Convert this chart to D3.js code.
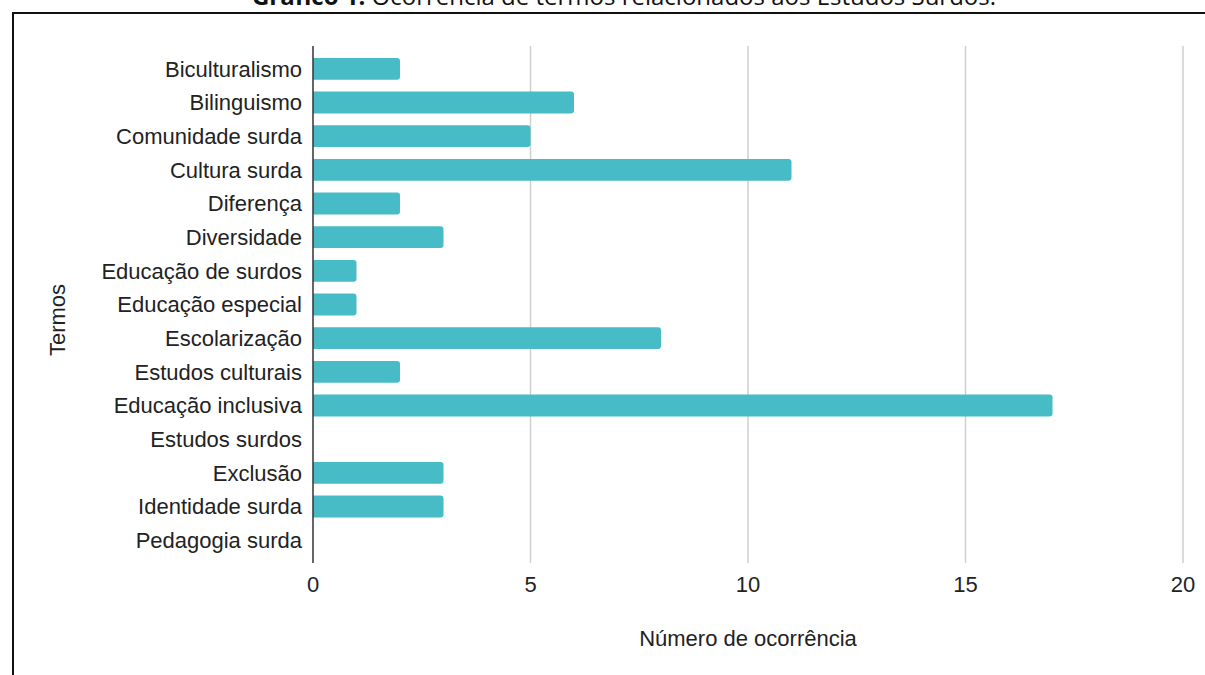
<!DOCTYPE html>
<html lang="pt">
<head>
  <meta charset="UTF-8">
  <title>Gráfico 1</title>
  <style>
    body { margin: 0; background: #fff; }
    svg { display: block; }
  </style>
  <script src="https://d3js.org/d3.v7.min.js"></script>
</head>
<body>
  <div id="chart"></div>
  <script>
    const termos = [
      "Biculturalismo", "Bilinguismo", "Comunidade surda", "Cultura surda",
      "Diferença", "Diversidade", "Educação de surdos", "Educação especial",
      "Escolarização", "Estudos culturais", "Educação inclusiva", "Estudos surdos",
      "Exclusão", "Identidade surda", "Pedagogia surda"
    ];
    const ocorrencias = [2, 6, 5, 11, 2, 3, 1, 1, 8, 2, 17, 0, 3, 3, 0];
    const xTicks = [0, 5, 10, 15, 20];

    const W = 1205, H = 675;
    const mLeft = 313, mRight = 1183, mTop = 52, mBottom = 557;

    const svg = d3.select("#chart").append("svg")
      .attr("width", W).attr("height", H);

    // moldura
    svg.append("path")
      .attr("d", `M13,${H} L13,13 L${W},13`)
      .attr("fill", "none").attr("stroke", "#111").attr("stroke-width", 2);

    // título (cortado no topo, como no original)
    const title = svg.append("text")
      .attr("x", 624).attr("y", 5)
      .attr("text-anchor", "middle")
      .style("font-family", "'Open Sans', sans-serif")
      .style("font-size", "24px")
      .style("fill", "#111");
    title.append("tspan").style("font-weight", "bold").text("Gráfico 1.");
    title.append("tspan").text(" Ocorrência de termos relacionados aos Estudos Surdos.");

    const x = d3.scaleLinear().domain([0, 20]).range([mLeft, mRight]);
    const y = d3.scaleBand().domain(termos).range([mTop, mBottom]).paddingInner(0.35).paddingOuter(0.175);

    // grade
    svg.append("g").selectAll("line")
      .data(xTicks.slice(1))
      .join("line")
      .attr("x1", d => x(d)).attr("x2", d => x(d))
      .attr("y1", 46).attr("y2", 563)
      .attr("stroke", "#cfcfcf").attr("stroke-width", 1.5);

    // barras (cantos arredondados só à direita)
    const r = 3;
    svg.append("g").selectAll("path")
      .data(termos.map((t, i) => ({ t, v: ocorrencias[i] })).filter(d => d.v > 0))
      .join("path")
      .attr("d", d => {
        const x0 = x(0), x1 = x(d.v), y0 = y(d.t), h = y.bandwidth();
        return `M${x0},${y0} H${x1 - r} Q${x1},${y0} ${x1},${y0 + r} V${y0 + h - r} Q${x1},${y0 + h} ${x1 - r},${y0 + h} H${x0} Z`;
      })
      .attr("fill", "#47bcc6");

    // eixo y
    svg.append("line")
      .attr("x1", mLeft).attr("x2", mLeft)
      .attr("y1", 46).attr("y2", 563)
      .attr("stroke", "#333").attr("stroke-width", 1.5);

    const font = "'Liberation Sans', Arial, sans-serif";
    const fs = "22px";

    svg.append("g").selectAll("text")
      .data(termos)
      .join("text")
      .attr("x", mLeft - 11)
      .attr("y", d => y(d) + y.bandwidth() / 2)
      .attr("dy", "0.35em")
      .attr("text-anchor", "end")
      .style("font-family", font).style("font-size", fs).style("fill", "#222")
      .text(d => d);

    svg.append("g").selectAll("text")
      .data(xTicks)
      .join("text")
      .attr("x", d => x(d))
      .attr("y", 584)
      .attr("dy", "0.35em")
      .attr("text-anchor", "middle")
      .style("font-family", font).style("font-size", fs).style("fill", "#222")
      .text(d => d);

    svg.append("text")
      .attr("x", (mLeft + mRight) / 2).attr("y", 638)
      .attr("dy", "0.35em")
      .attr("text-anchor", "middle")
      .style("font-family", font).style("font-size", fs).style("fill", "#222")
      .text("Número de ocorrência");

    svg.append("text")
      .attr("transform", "translate(57,320) rotate(-90)")
      .attr("dy", "0.35em")
      .attr("text-anchor", "middle")
      .style("font-family", font).style("font-size", fs).style("fill", "#222")
      .text("Termos");
  </script>
</body>
</html>
